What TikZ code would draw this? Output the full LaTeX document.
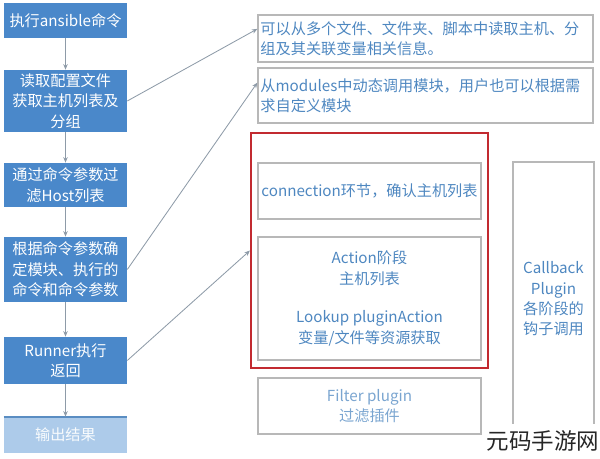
\documentclass[tikz,border=0pt]{standalone}
\usepackage{fontspec}
\setmainfont{Noto Sans CJK SC}
\usetikzlibrary{arrows.meta,calc}
\definecolor{stepblue}{HTML}{4A88CA}
\definecolor{paleblue}{HTML}{ADCBEA}
\definecolor{edgeblue}{HTML}{5A8DC2}
\definecolor{textblue}{HTML}{4E87C0}
\definecolor{boxgray}{HTML}{B8B8B8}
\definecolor{linegray}{HTML}{8E9BA8}
\definecolor{stageframe}{HTML}{C22A30}

\begin{document}
\begin{tikzpicture}[x=0.025cm,y=-0.025cm,
    stepbox/.style={fill=stepblue,text=white,minimum width=3.075cm,align=center,inner sep=0pt,font=\fontsize{10.8}{14.5}\selectfont},
    infobox/.style={draw=boxgray,line width=0.8pt,text=textblue,inner sep=0pt,align=center,font=\fontsize{10.8}{14.5}\selectfont},
    flow/.style={draw=linegray,line width=0.6pt,-{Stealth[length=4pt,width=3.2pt]}}]
    \useasboundingbox (0,0) rectangle (600,459);

    % left column
    \node[stepbox,minimum height=0.875cm] (run) at (65.5,20.5) {执行ansible命令};
    \node[stepbox,minimum height=1.55cm] (read) at (65.5,101) {读取配置文件\\获取主机列表及\\分组};
    \node[stepbox,minimum height=1.1cm] (filter) at (65.5,185) {通过命令参数过\\滤Host列表};
    \node[stepbox,minimum height=1.625cm] (module) at (65.5,269.5) {根据命令参数确\\定模块、执行的\\命令和命令参数};
    \node[stepbox,minimum height=1.175cm] (runner) at (65.5,360.5) {Runner执行\\返回};
    \node[stepbox,fill=paleblue,text=white!92!paleblue,minimum height=0.9cm] (result) at (65.5,435) {输出结果};
    \draw[edgeblue,line width=1.4pt] (result.north west) -- (result.north east);

    \draw[flow] (run) -- (read);
    \draw[flow] (read) -- (filter);
    \draw[flow] (filter) -- (module);
    \draw[flow] (module) -- (runner);
    \draw[flow] (runner) -- (result);

    % right column
    \node[infobox,minimum width=8.375cm,minimum height=1.175cm,align=left,text width=8.25cm] (hosts) at (425.5,38.5) {可以从多个文件、文件夹、脚本中读取主机、分\\组及其关联变量相关信息。};
    \node[infobox,minimum width=8.375cm,minimum height=1.375cm,align=left,text width=8.25cm] (modules) at (425.5,95.5) {从modules中动态调用模块，用户也可以根据需\\求自定义模块};
    \node[draw=stageframe,line width=1.4pt,minimum width=5.925cm,minimum height=5.875cm,inner sep=0pt] (stage) at (369.5,250.5) {};
    \node[infobox,minimum width=5.575cm,minimum height=1.4cm] (conn) at (369.5,191) {connection环节，确认主机列表};
    \node[infobox,minimum width=5.575cm,minimum height=3.075cm] (action) at (369.5,298.5) {Action阶段\\主机列表\\[13pt]Lookup pluginAction\\变量/文件等资源获取};
    \node[infobox,minimum width=5.575cm,minimum height=1.4cm,text=textblue!75] (filterplug) at (369.5,406) {Filter plugin\\过滤插件};
    \node[infobox,minimum width=2.025cm,minimum height=6.85cm] (callback) at (553.5,299) {Callback\\Plugin\\各阶段的\\钩子调用};

    \draw[flow] (read.east) -- ($(hosts.north west)!0.3!(hosts.south west)$);
    \draw[flow] (module.east) -- ($(modules.north west)!0.27!(modules.south west)$);
    \draw[flow] (runner.east) -- (stage.west);

    \node[fill=white,inner xsep=2pt,inner ysep=5pt,text=black!85,font=\fontsize{16}{16}\selectfont] (mark) at (543,441) {元码手游网};
\end{tikzpicture}
\end{document}
